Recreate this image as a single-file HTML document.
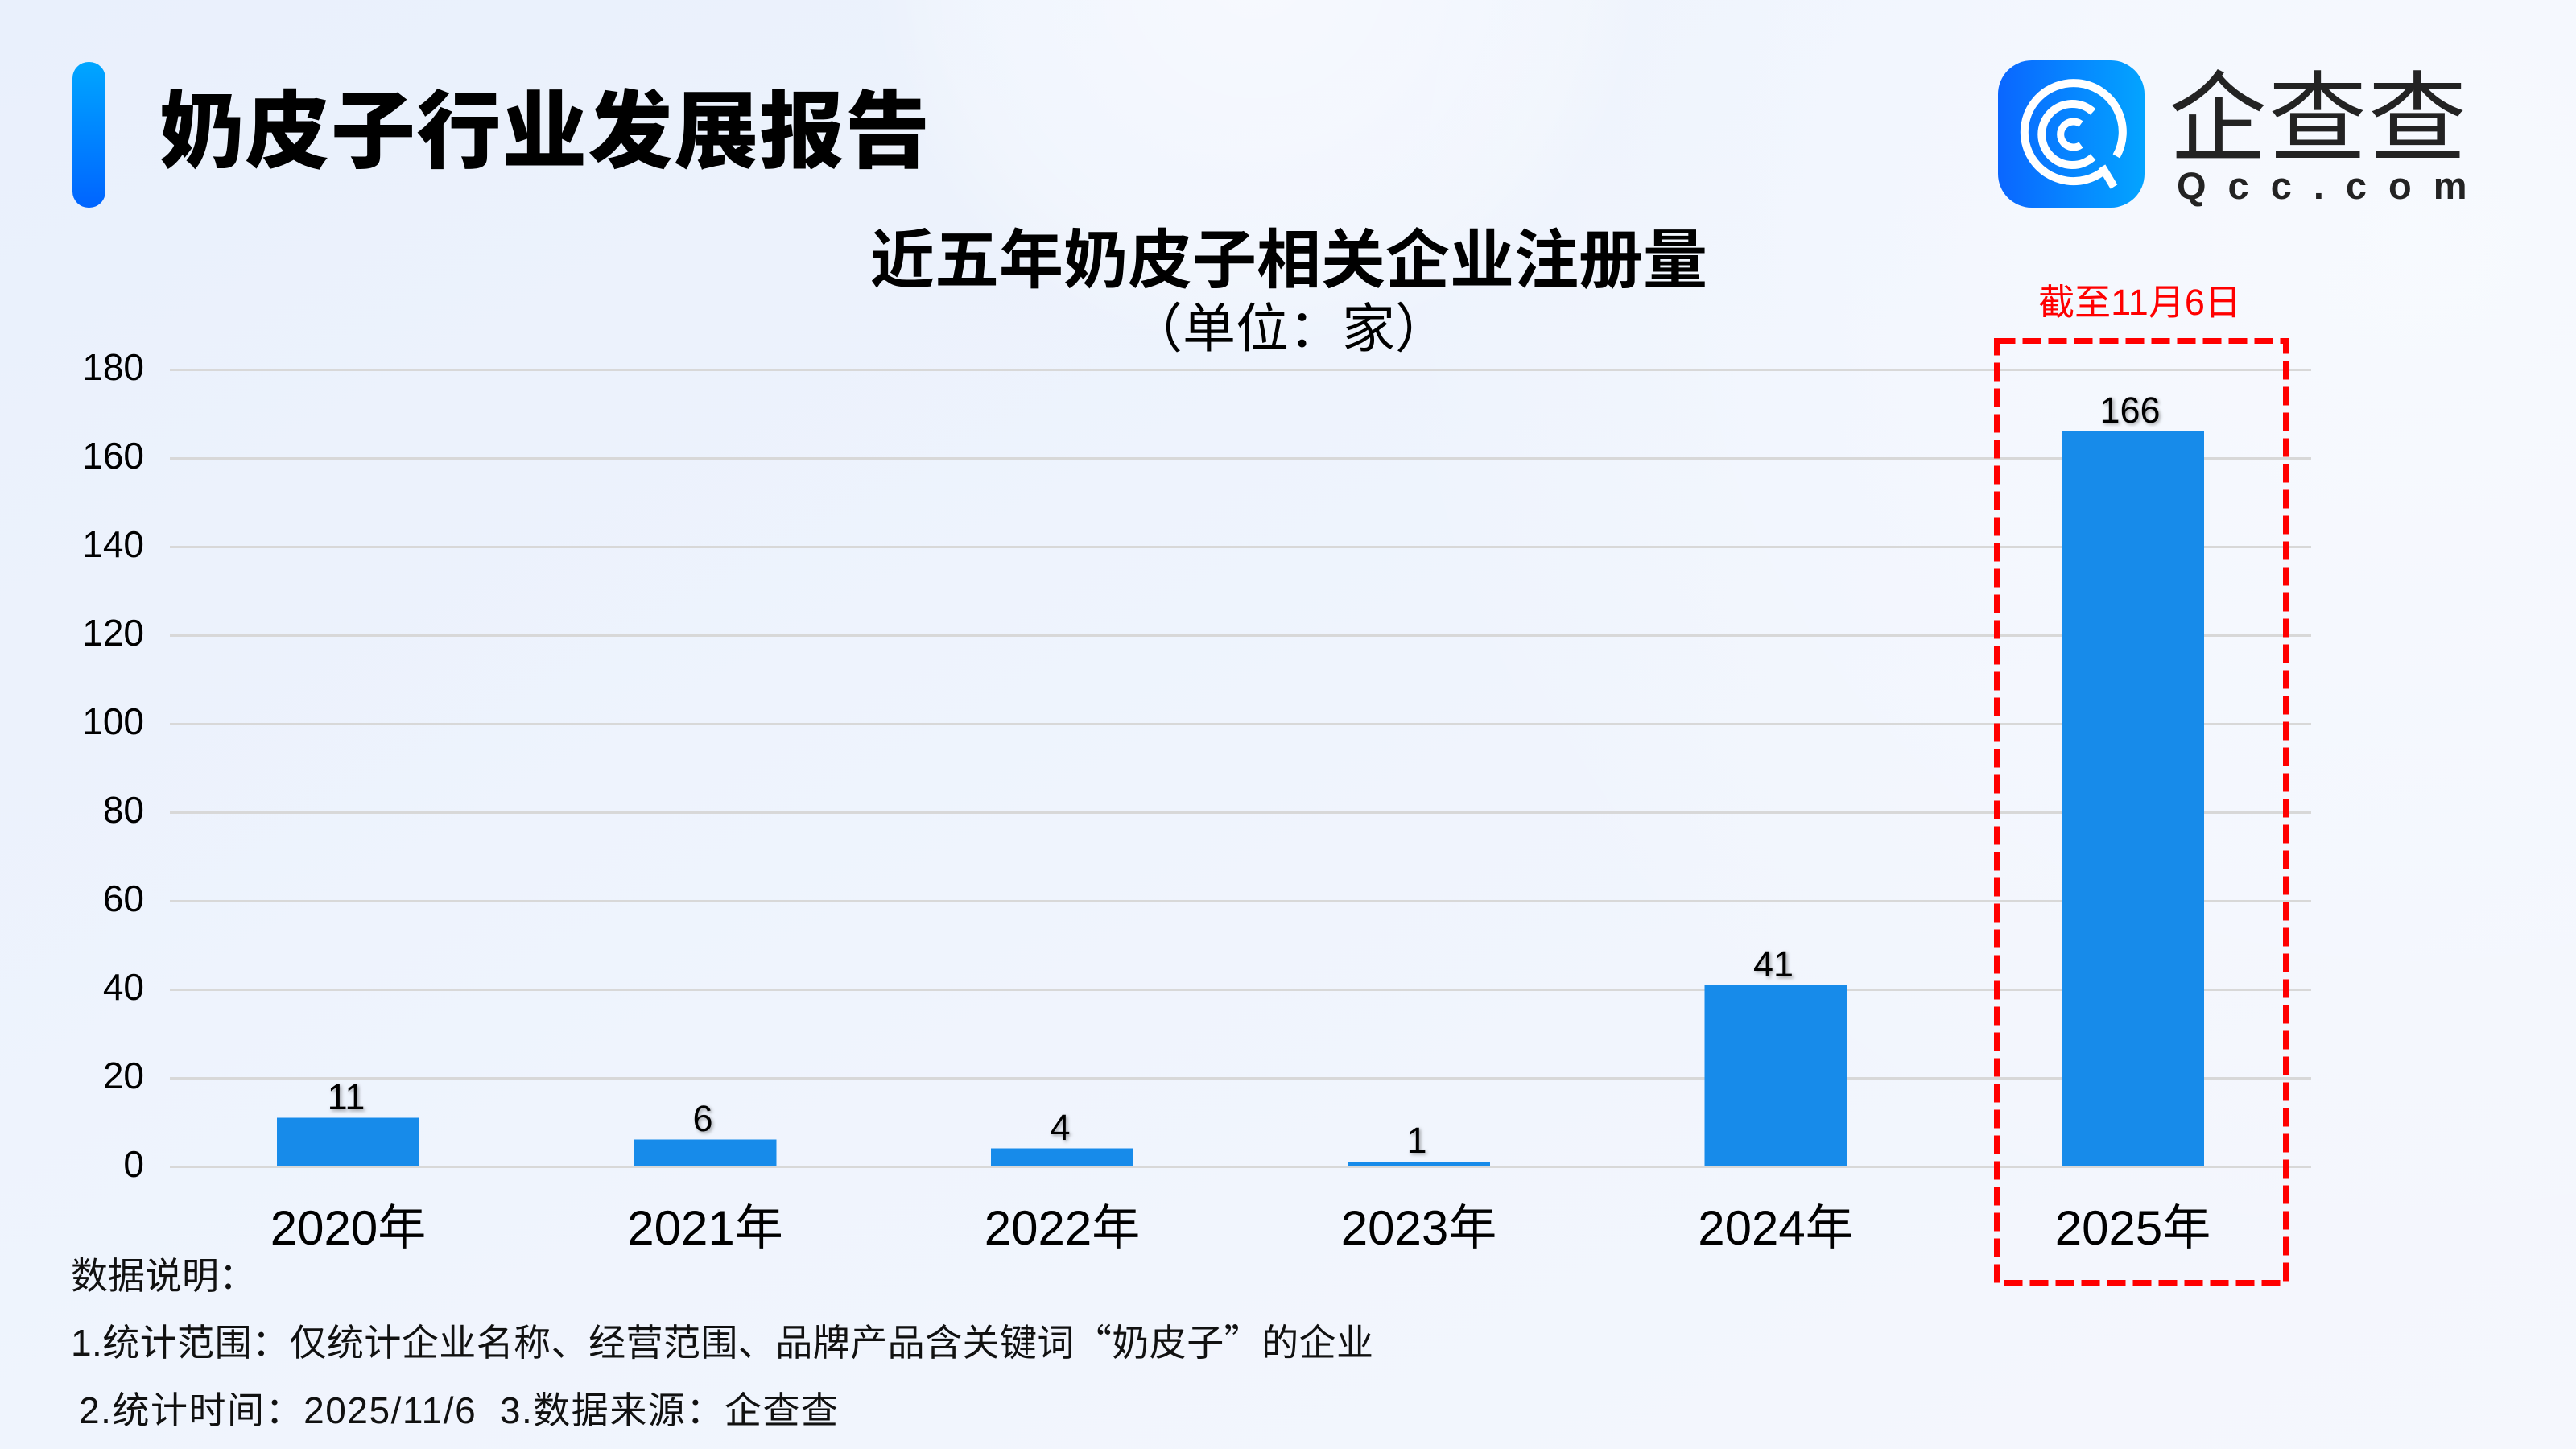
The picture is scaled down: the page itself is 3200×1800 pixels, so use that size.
<!DOCTYPE html>
<html>
<head>
<meta charset="utf-8">
<style>
html,body{margin:0;padding:0;}
body{width:3200px;height:1800px;overflow:hidden;background:#eef3fc;}
svg{display:block;}
text{font-family:"Liberation Sans","Noto Sans CJK SC",sans-serif;}
</style>
</head>
<body>
<svg width="3200" height="1800" viewBox="0 0 3200 1800" xmlns="http://www.w3.org/2000/svg">
  <defs>
    <linearGradient id="bg" x1="0" y1="0" x2="1" y2="1">
      <stop offset="0" stop-color="#e9f0fc"/>
      <stop offset="0.5" stop-color="#eff4fd"/>
      <stop offset="1" stop-color="#f5f7fd"/>
    </linearGradient>
    <radialGradient id="blob" cx="1560" cy="-40" r="480" gradientUnits="userSpaceOnUse">
      <stop offset="0" stop-color="#ffffff" stop-opacity="0.55"/>
      <stop offset="0.8" stop-color="#ffffff" stop-opacity="0.25"/>
      <stop offset="1" stop-color="#ffffff" stop-opacity="0"/>
    </radialGradient>
    <radialGradient id="blob2" cx="3000" cy="300" r="1300" gradientUnits="userSpaceOnUse">
      <stop offset="0" stop-color="#f9fbff" stop-opacity="0.8"/>
      <stop offset="1" stop-color="#f9fbff" stop-opacity="0"/>
    </radialGradient>
    <linearGradient id="bar" x1="0" y1="0" x2="0" y2="1">
      <stop offset="0" stop-color="#00a6ff"/>
      <stop offset="1" stop-color="#0064ff"/>
    </linearGradient>
    <linearGradient id="logo" x1="0" y1="0" x2="1" y2="0">
      <stop offset="0" stop-color="#0a66ff"/>
      <stop offset="1" stop-color="#03a4ff"/>
    </linearGradient>
    <filter id="sh" x="-20%" y="-20%" width="150%" height="150%">
      <feDropShadow dx="2" dy="2" stdDeviation="2" flood-color="#000" flood-opacity="0.35"/>
    </filter>
  </defs>

  <rect x="0" y="0" width="3200" height="1800" fill="url(#bg)"/>
  <rect x="0" y="0" width="3200" height="1800" fill="url(#blob2)"/>
  <rect x="0" y="0" width="3200" height="1800" fill="url(#blob)"/>

  <!-- header -->
  <rect x="90" y="77" width="41" height="181" rx="20" ry="20" fill="url(#bar)"/>
  <text x="198" y="200" font-size="105" font-weight="900" fill="#000" letter-spacing="1.5" style="font-family:'Noto Sans CJK SC',sans-serif;">奶皮子行业发展报告</text>

  <!-- logo -->
  <rect x="2482" y="75" width="182" height="183" rx="42" ry="42" fill="url(#logo)"/>
  <g fill="none" stroke="#ffffff" stroke-linecap="butt">
    <path d="M 2616 210 A 61 61 0 1 1 2629 194" stroke-width="10"/>
    <line x1="2611" y1="207" x2="2626" y2="232" stroke-width="10"/>
    <path d="M 2600 195 A 38 38 0 1 1 2600 139" stroke-width="10"/>
    <path d="M 2585 180 A 16 16 0 1 1 2585 154" stroke-width="9"/>
  </g>
  <text x="2694" y="190" font-size="122" font-weight="400" fill="#232323" letter-spacing="2" style="font-family:'Noto Sans CJK SC',sans-serif;">企查查</text>
  <text x="2704" y="247" font-size="47" font-weight="700" fill="#232323" letter-spacing="27">Qcc.com</text>

  <!-- chart titles -->
  <text x="1601" y="351" font-size="80" font-weight="700" fill="#000" text-anchor="middle">近五年奶皮子相关企业注册量</text>
  <text x="1601" y="431" font-size="66" font-weight="400" fill="#000" text-anchor="middle">（单位：家）</text>

  <!-- gridlines -->
  <g stroke="#d8d8d8" stroke-width="3">
    <line x1="211" y1="459.5" x2="2871" y2="459.5"/>
    <line x1="211" y1="569.5" x2="2871" y2="569.5"/>
    <line x1="211" y1="679.5" x2="2871" y2="679.5"/>
    <line x1="211" y1="789.5" x2="2871" y2="789.5"/>
    <line x1="211" y1="899.5" x2="2871" y2="899.5"/>
    <line x1="211" y1="1009.5" x2="2871" y2="1009.5"/>
    <line x1="211" y1="1119.5" x2="2871" y2="1119.5"/>
    <line x1="211" y1="1229.5" x2="2871" y2="1229.5"/>
    <line x1="211" y1="1339.5" x2="2871" y2="1339.5"/>
    <line x1="211" y1="1449.5" x2="2871" y2="1449.5"/>
  </g>

  <!-- y tick labels -->
  <g font-size="46" fill="#000" text-anchor="end">
    <text x="179" y="472">180</text>
    <text x="179" y="582">160</text>
    <text x="179" y="692">140</text>
    <text x="179" y="802">120</text>
    <text x="179" y="912">100</text>
    <text x="179" y="1022">80</text>
    <text x="179" y="1132">60</text>
    <text x="179" y="1242">40</text>
    <text x="179" y="1352">20</text>
    <text x="179" y="1462">0</text>
  </g>

  <!-- bars -->
  <g fill="#178bea">
    <rect x="344" y="1388.5" width="177" height="60"/>
    <rect x="787.5" y="1415.5" width="177" height="33"/>
    <rect x="1231" y="1426.5" width="177" height="22"/>
    <rect x="1674" y="1443" width="177" height="5.5"/>
    <rect x="2117.5" y="1223.5" width="177" height="225"/>
    <rect x="2561" y="536" width="177" height="912.5"/>
  </g>

  <!-- value labels -->
  <g font-size="45" fill="#000" text-anchor="middle" filter="url(#sh)">
    <text x="430" y="1378">11</text>
    <text x="873" y="1405">6</text>
    <text x="1317" y="1416">4</text>
    <text x="1760" y="1432">1</text>
    <text x="2203" y="1213">41</text>
    <text x="2646" y="525">166</text>
  </g>

  <!-- category labels -->
  <g font-size="60" fill="#000" text-anchor="middle">
    <text x="432.5" y="1546">2020年</text>
    <text x="876" y="1546">2021年</text>
    <text x="1319.5" y="1546">2022年</text>
    <text x="1762.5" y="1546">2023年</text>
    <text x="2206" y="1546">2024年</text>
    <text x="2649.5" y="1546">2025年</text>
  </g>

  <!-- red dashed highlight -->
  <text x="2658" y="391" font-size="45" fill="#ff0000" text-anchor="middle">截至11月6日</text>
  <rect x="2480.5" y="423.5" width="359" height="1170" fill="none" stroke="#ff0000" stroke-width="7" stroke-dasharray="23 9"/>

  <!-- footnotes -->
  <g font-size="46" fill="#111">
    <text x="88" y="1601">数据说明：</text>
    <text x="88" y="1684" textLength="1618" lengthAdjust="spacing">1.统计范围：仅统计企业名称、经营范围、品牌产品含关键词<tspan style="font-family:'Noto Sans CJK SC',sans-serif;">“</tspan>奶皮子<tspan style="font-family:'Noto Sans CJK SC',sans-serif;">”</tspan>的企业</text>
    <text x="98" y="1768" textLength="943" lengthAdjust="spacing" xml:space="preserve">2.统计时间：2025/11/6  3.数据来源：企查查</text>
  </g>
</svg>
</body>
</html>
